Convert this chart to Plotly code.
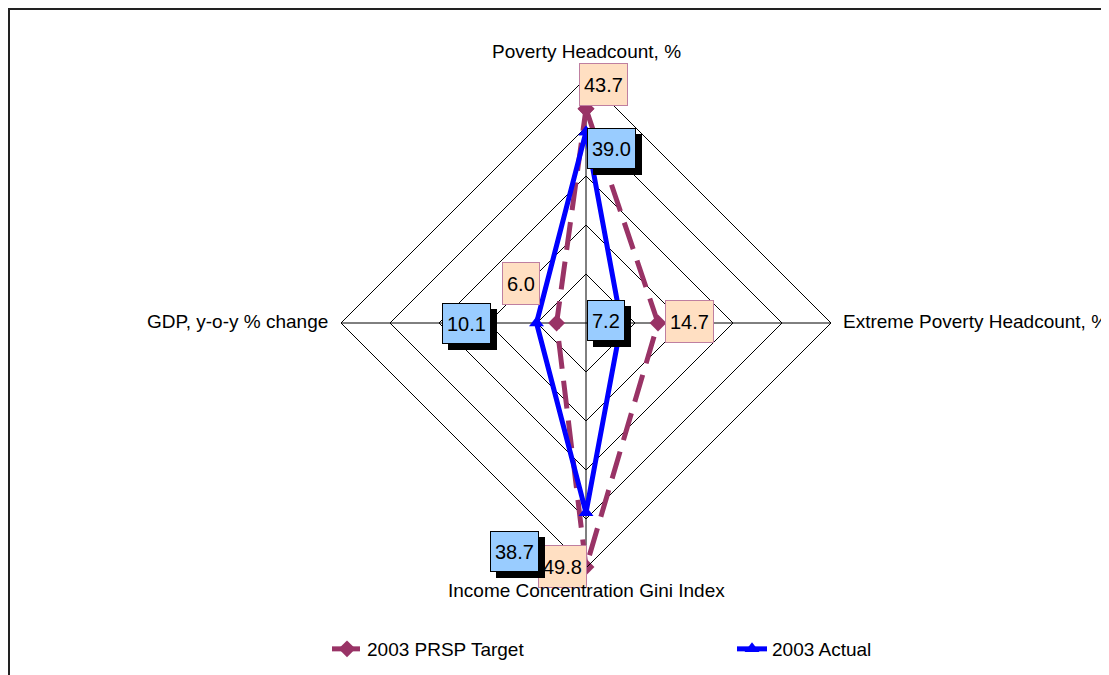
import math
import plotly.graph_objects as go

# ---- data ----
categories = ["Poverty Headcount, %", "Extreme Poverty Headcount, %",
              "Income Concentration Gini Index", "GDP, y-o-y % change"]
target = [43.7, 14.7, 49.8, 6.0]
actual = [39.0, 7.2, 38.7, 10.1]
series_names = ["2003 PRSP Target", "2003 Actual"]
radial_max = 50
radial_ticks = [10, 20, 30, 40, 50]

# ---- layout constants (page body has an 8px margin) ----
W, H = 1101, 667
CX, CY, R = 578, 315, 245          # polar centre / radius in figure pixels
dom_x = [(CX - R) / W, (CX + R) / W]
dom_y = [1 - (CY + R) / H, 1 - (CY - R) / H]
FONT = "Liberation Sans, Arial, sans-serif"
TARGET_COLOR = "#993366"
ACTUAL_COLOR = "#0000FF"

# label offsets in pixels (dx right, dy up) relative to the data point
target_offsets = [(17, 24), (31, 2), (-24, 1), (-36, 40)]
actual_offsets = [(25, -17), (-15, 3), (-72, -39), (-70, 0)]
# category label placement relative to each outer vertex
cat_place = [(0, 26, "center"), (10, 2, "left"), (0, -22, "center"), (-11, 2, "right")]

fig = go.Figure()
fig.add_trace(go.Scatterpolar(
    r=target + target[:1], theta=categories + categories[:1],
    name=series_names[0], mode="lines+markers", legend="legend",
    line=dict(color=TARGET_COLOR, width=5, dash="28px,12px"),
    marker=dict(symbol="diamond", size=13, color=TARGET_COLOR),
))
fig.add_trace(go.Scatterpolar(
    r=actual + actual[:1], theta=categories + categories[:1],
    name=series_names[1], mode="lines+markers", legend="legend2",
    line=dict(color=ACTUAL_COLOR, width=5),
    marker=dict(symbol="triangle-up", size=13, color=ACTUAL_COLOR),
))

legend_common = dict(y=1 - 641 / H, xanchor="left", yanchor="middle",
                     font=dict(size=19, family=FONT, color="black"),
                     bgcolor="rgba(0,0,0,0)")
fig.update_layout(
    width=W, height=H, autosize=False,
    margin=dict(l=0, r=0, t=0, b=0),
    paper_bgcolor="white",
    showlegend=True,
    font=dict(family=FONT, size=19, color="black"),
    polar=dict(
        domain=dict(x=dom_x, y=dom_y),
        bgcolor="white",
        gridshape="linear",
        radialaxis=dict(range=[0, radial_max], tickvals=radial_ticks,
                        showticklabels=False, showgrid=True,
                        gridcolor="black", gridwidth=1,
                        showline=False, ticks="", angle=90),
        angularaxis=dict(rotation=90, direction="clockwise",
                         showgrid=True, gridcolor="black", gridwidth=1,
                         showline=True, linecolor="black", linewidth=1,
                         ticks="", showticklabels=False),
    ),
    legend=dict(x=319 / W, **legend_common),
    legend2=dict(x=724 / W, **legend_common),
)

# ---- positions derived from the data through the polar geometry ----
cx = (dom_x[0] + dom_x[1]) / 2
cy = (dom_y[0] + dom_y[1]) / 2
rx = (dom_x[1] - dom_x[0]) / 2
ry = (dom_y[1] - dom_y[0]) / 2
angles = [i * 2 * math.pi / len(categories) for i in range(len(categories))]


def to_paper(v, a):
    return (cx + v / radial_max * rx * math.sin(a),
            cy + v / radial_max * ry * math.cos(a))


annotations = []
# target data labels
for v, a, (dx, dy) in zip(target, angles, target_offsets):
    x, y = to_paper(v, a)
    annotations.append(dict(
        x=x, y=y, xref="paper", yref="paper", text=f"{v:.1f}", showarrow=False,
        xanchor="center", yanchor="middle",
        xshift=dx, yshift=dy, height=33,
        bgcolor="#FFDFC2", bordercolor="#BF7FA0", borderwidth=1, borderpad=4,
        font=dict(size=20, family=FONT, color="black"),
    ))
# actual data labels (with drop shadow)
for v, a, (dx, dy) in zip(actual, angles, actual_offsets):
    x, y = to_paper(v, a)
    txt = f"{v:.1f}"
    annotations.append(dict(
        x=x, y=y, xref="paper", yref="paper", text=txt, showarrow=False,
        xanchor="center", yanchor="middle",
        xshift=dx + 6, yshift=dy - 6, height=31,
        bgcolor="black", bordercolor="black", borderwidth=1, borderpad=4,
        font=dict(size=20, family=FONT, color="black"),
    ))
    annotations.append(dict(
        x=x, y=y, xref="paper", yref="paper", text=txt, showarrow=False,
        xanchor="center", yanchor="middle",
        xshift=dx, yshift=dy, height=31,
        bgcolor="#99CCFF", bordercolor="black", borderwidth=1, borderpad=4,
        font=dict(size=20, family=FONT, color="black"),
    ))
# category labels (drawn last, on top of data labels)
for name, a, (dx, dy, anchor) in zip(categories, angles, cat_place):
    x, y = to_paper(radial_max, a)
    annotations.append(dict(
        x=x, y=y, xref="paper", yref="paper", text=name, showarrow=False,
        xanchor=anchor, yanchor="middle", xshift=dx, yshift=dy,
        font=dict(size=19, family=FONT, color="black"),
    ))
fig.update_layout(annotations=annotations)

# chart-area border (top and left edges visible)
fig.add_shape(type="rect", xref="paper", yref="paper",
              x0=1 / W, x1=1.05, y0=-0.05, y1=1 - 1 / H,
              line=dict(color="#222222", width=2), fillcolor="rgba(0,0,0,0)",
              layer="below")

fig.write_html("out.html")
